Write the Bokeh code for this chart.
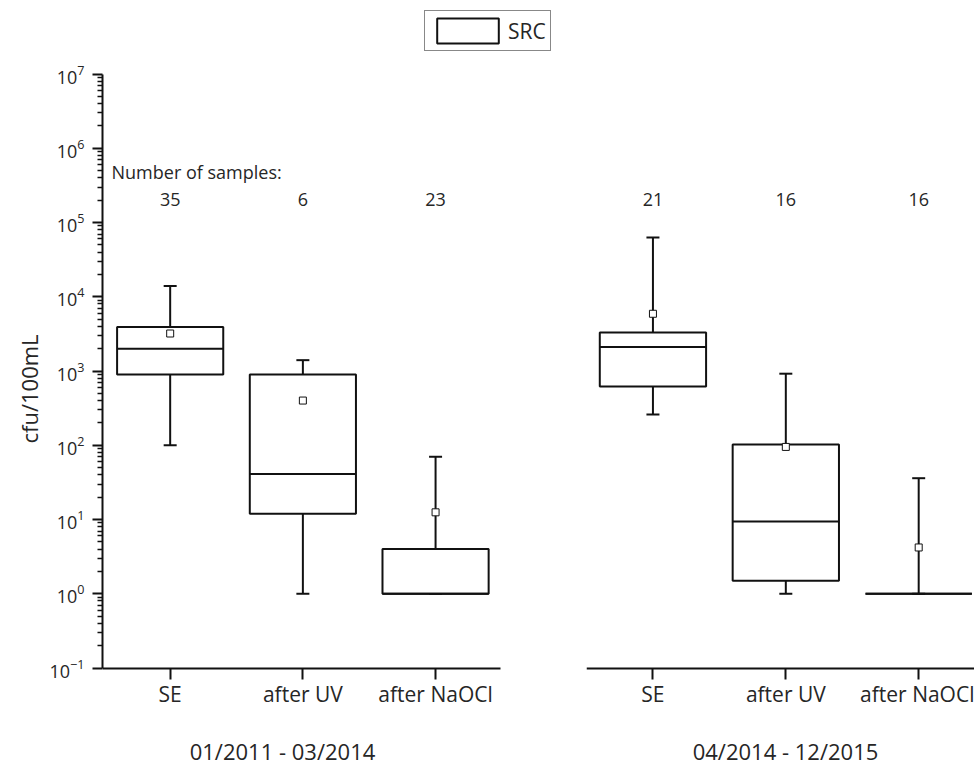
from bokeh.plotting import figure
from bokeh.layouts import row
from bokeh.core.properties import value
from bokeh.models import (ColumnDataSource, Range1d, FixedTicker, Whisker, TeeHead,
                          LabelSet, Label, Legend, LegendItem, Title)
from bokeh.embed import file_html
from bokeh.resources import INLINE

# ---- data -------------------------------------------------------------
categories = ["SE", "after UV", "after NaOCl"]
periods = ["01/2011 - 03/2014", "04/2014 - 12/2015"]
series_name = "SRC"
y_title = "cfu/100mL"

# period 1: 01/2011 - 03/2014
n_samples_1 = [35, 6, 23]
whisker_low_1 = [100, 1, 1]
q1_1 = [900, 12, 1]
median_1 = [2000, 41, 1]
q3_1 = [3900, 900, 4]
whisker_high_1 = [14000, 1400, 70]
mean_1 = [3200, 400, 12.5]

# period 2: 04/2014 - 12/2015
n_samples_2 = [21, 16, 16]
whisker_low_2 = [260, 1, 1]
q1_2 = [620, 1.5, 1]
median_2 = [2100, 9.4, 1]
q3_2 = [3300, 102, 1]
whisker_high_2 = [63000, 920, 36]
mean_2 = [5900, 95, 4.2]

# ---- styling ------------------------------------------------------------
FONT = "Open Sans"
TEXT = "#262626"
INK = "#111111"
BOX_W = 0.8

positions = list(range(1, len(categories) + 1))
# the plotting area fills the whole page height (legend on top, captions at the
# bottom); the value axis runs from 10^-1 to 10^7 and the category axis sits at 10^-1
y_range = Range1d(10 ** -2.313, 10 ** 7.99)
y_span = (0.1, 1e7)
y_floor = 0.1
decades = [10.0 ** e for e in range(-1, 8)]
minor_steps = [k * 10.0 ** e for e in range(-1, 7) for k in range(2, 10)]


def make_panel(stats, counts, period, x_range, x_span, width, border_left,
               caption_x, show_y_axis):
    p = figure(width=width, height=765, x_range=x_range, y_range=y_range,
               y_axis_type="log", output_backend="svg", toolbar_location=None,
               min_border_left=border_left, min_border_right=0,
               min_border_top=0, min_border_bottom=0,
               y_axis_location="left" if show_y_axis else None)
    p.outline_line_color = None
    p.xgrid.visible = False
    p.ygrid.visible = False
    p.background_fill_color = "white"
    p.border_fill_color = "white"

    lo, q1, med, q3, hi, mean = stats
    src = ColumnDataSource(dict(x=positions, lo=lo, q1=q1, med=med, q3=q3,
                                hi=hi, mean=mean))

    # whiskers: upper from box top to max, lower from min to box bottom
    up = Whisker(source=src, base="x", lower="q3", upper="hi",
                 upper_head=TeeHead(size=13, line_color=INK, line_width=2),
                 lower_head=None, line_color=INK, line_width=2)
    down = Whisker(source=src, base="x", lower="lo", upper="q1",
                   lower_head=TeeHead(size=13, line_color=INK, line_width=2),
                   upper_head=None, line_color=INK, line_width=2)
    p.add_layout(up)
    p.add_layout(down)

    box = p.vbar(x="x", width=BOX_W, bottom="q1", top="q3", source=src,
                 fill_color="white", line_color=INK, line_width=2)
    p.vbar(x="x", width=BOX_W, bottom="med", top="med", source=src,
           fill_alpha=0, line_color=INK, line_width=2)
    p.scatter(x="x", y="mean", source=src, marker="square", size=7,
              fill_color="white", line_color=INK, line_width=1)

    # sample counts above each category
    cnt = ColumnDataSource(dict(x=positions, n=[str(v) for v in counts]))
    p.add_layout(LabelSet(source=cnt, x="x", y=566, y_units="screen", text="n",
                          text_align="center", text_baseline="middle",
                          text_font=value(FONT), text_font_size=value("18px"),
                          text_color=TEXT))

    ax = p.xaxis[0]
    ax.fixed_location = y_floor
    ax.bounds = x_span
    ax.ticker = FixedTicker(ticks=positions)
    ax.major_label_overrides = {pos: cat for pos, cat in zip(positions, categories)}
    ax.minor_tick_line_color = None
    ax.major_tick_in = 0
    ax.major_tick_out = 11
    ax.major_tick_line_width = 2
    ax.major_tick_line_color = INK
    ax.axis_line_width = 2
    ax.axis_line_color = INK
    ax.major_label_standoff = 1
    ax.major_label_text_font = FONT
    ax.major_label_text_font_size = "21px"
    ax.major_label_text_color = TEXT

    # period caption under the category labels
    p.add_layout(Label(x=caption_x, x_units="screen", y=15, y_units="screen",
                       text=period, text_align="center",
                       text_baseline="middle", text_font=FONT,
                       text_font_size="22px", text_color=TEXT))

    if show_y_axis:
        yax = p.yaxis[0]
        yax.bounds = y_span
        yax.ticker = FixedTicker(ticks=decades, minor_ticks=minor_steps)
        yax.major_tick_in = 0
        yax.major_tick_out = 10
        yax.minor_tick_in = 0
        yax.minor_tick_out = 5
        yax.major_tick_line_width = 2
        yax.minor_tick_line_width = 1.5
        yax.major_tick_line_color = INK
        yax.minor_tick_line_color = INK
        yax.axis_line_width = 2
        yax.axis_line_color = INK
        yax.major_label_standoff = 8
        yax.major_label_text_font = FONT
        yax.major_label_text_font_size = "18px"
        yax.major_label_text_color = TEXT
        # rotated y title, outside the value axis
        p.add_layout(Title(text=y_title, align="left", offset=322, standoff=6,
                           text_font=FONT, text_font_size="22px",
                           text_font_style="normal", text_color=TEXT), "left")
    return p, box


left, left_box = make_panel(
    (whisker_low_1, q1_1, median_1, q3_1, whisker_high_1, mean_1),
    n_samples_1, periods[0], Range1d(0.49, 4.047), (0.49, 3.49),
    574, 102, 180, True)
right, _ = make_panel(
    (whisker_low_2, q1_2, median_2, q3_2, whisker_high_2, mean_2),
    n_samples_2, periods[1], Range1d(0.5, 3.42), (0.5, 3.42),
    400, 12, 199, False)

left.add_layout(Label(x=9, x_units="screen", y=594, y_units="screen",
                      text="Number of samples:", text_baseline="middle",
                      text_font=FONT, text_font_size="18px", text_color=TEXT))

legend = Legend(items=[LegendItem(label=series_name, renderers=[left_box])],
                location=(322, 714), margin=0, padding=4, spacing=0,
                glyph_width=77, glyph_height=31, label_standoff=2,
                label_text_font=FONT, label_text_font_size="21px",
                label_text_color=TEXT, border_line_color=INK,
                border_line_width=1, background_fill_color="white",
                background_fill_alpha=1)
left.add_layout(legend)

layout = row(left, right, spacing=0)
open("out.html", "w").write(file_html(layout, INLINE))
